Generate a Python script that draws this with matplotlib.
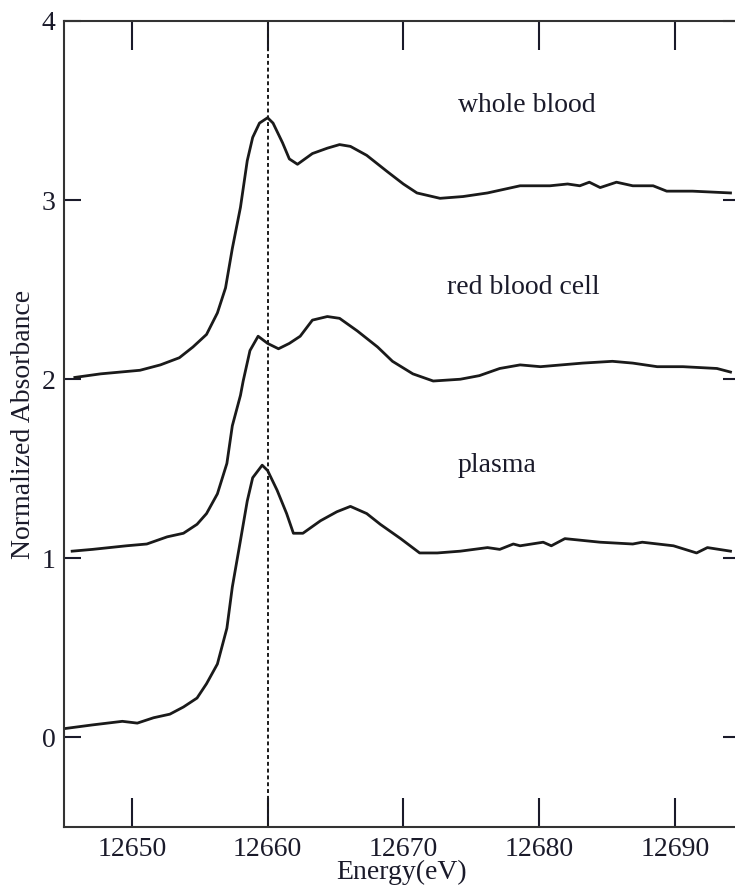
import matplotlib
matplotlib.use('Agg')
import matplotlib.pyplot as plt

plt.rcParams['font.family'] = ['Liberation Serif', 'DejaVu Serif']

# whole blood
wb_e = [12645.8, 12647.7, 12650.6, 12652.1, 12653.5, 12654.5, 12655.5, 12656.3, 12656.9,
        12657.4, 12658.0, 12658.5, 12658.9, 12659.4, 12660.0, 12660.4, 12661.1, 12661.6,
        12662.2, 12663.3, 12664.4, 12665.3, 12666.1, 12667.3, 12668.8, 12670.0, 12671.0,
        12672.7, 12674.4, 12676.2, 12678.6, 12680.8, 12682.1, 12683.0, 12683.7, 12684.5,
        12685.7, 12686.9, 12688.4, 12689.4, 12691.3, 12694.1]
wb_a = [2.01, 2.03, 2.05, 2.08, 2.12, 2.18, 2.25, 2.37, 2.51,
        2.73, 2.96, 3.22, 3.35, 3.43, 3.46, 3.43, 3.32, 3.23,
        3.20, 3.26, 3.29, 3.31, 3.30, 3.25, 3.16, 3.09, 3.04,
        3.01, 3.02, 3.04, 3.08, 3.08, 3.09, 3.08, 3.10, 3.07,
        3.10, 3.08, 3.08, 3.05, 3.05, 3.04]

# red blood cell
rbc_e = [12645.6, 12647.1, 12649.6, 12651.1, 12652.6, 12653.8, 12654.8, 12655.5, 12656.3,
         12657.0, 12657.4, 12658.0, 12658.2, 12658.7, 12659.3, 12660.0, 12660.8, 12661.6,
         12662.4, 12663.3, 12664.4, 12665.3, 12666.6, 12668.1, 12669.2, 12670.7, 12672.2,
         12674.2, 12675.6, 12677.1, 12678.6, 12680.1, 12683.2, 12685.4, 12686.9, 12688.7,
         12690.6, 12693.1, 12694.1]
rbc_a = [1.04, 1.05, 1.07, 1.08, 1.12, 1.14, 1.19, 1.25, 1.36,
         1.53, 1.74, 1.91, 1.99, 2.16, 2.24, 2.20, 2.17, 2.20,
         2.24, 2.33, 2.35, 2.34, 2.27, 2.18, 2.10, 2.03, 1.99,
         2.00, 2.02, 2.06, 2.08, 2.07, 2.09, 2.10, 2.09, 2.07,
         2.07, 2.06, 2.04]

# plasma
pl_e = [12645.1, 12647.1, 12649.3, 12650.4, 12651.6, 12652.8, 12653.8, 12654.8, 12655.5,
        12656.3, 12657.0, 12657.4, 12658.0, 12658.5, 12658.9, 12659.6, 12660.0, 12660.7,
        12661.4, 12661.9, 12662.6, 12663.9, 12665.1, 12666.1, 12667.3, 12668.3, 12669.8,
        12671.2, 12672.5, 12674.2, 12676.2, 12677.1, 12678.1, 12678.6, 12680.3, 12680.9,
        12681.9, 12684.5, 12686.9, 12687.6, 12689.9, 12691.6, 12692.4, 12694.1]
pl_a = [0.05, 0.07, 0.09, 0.08, 0.11, 0.13, 0.17, 0.22, 0.30,
        0.41, 0.61, 0.84, 1.10, 1.32, 1.45, 1.52, 1.49, 1.38,
        1.25, 1.14, 1.14, 1.21, 1.26, 1.29, 1.25, 1.19, 1.11,
        1.03, 1.03, 1.04, 1.06, 1.05, 1.08, 1.07, 1.09, 1.07,
        1.11, 1.09, 1.08, 1.09, 1.07, 1.03, 1.06, 1.04]

labels = ['whole blood', 'red blood cell', 'plasma']
label_e = [12674.0, 12673.2, 12674.0]
label_a = [3.53, 2.51, 1.52]

edge_energy = 12660
x_ticks = [12650, 12660, 12670, 12680, 12690]
y_ticks = [0, 1, 2, 3, 4]

fig = plt.figure(figsize=(7.35, 8.9), dpi=100)
ax = fig.add_axes([64 / 735, 63 / 890, 676 / 735, 806 / 890])

for e, a in [(wb_e, wb_a), (rbc_e, rbc_a), (pl_e, pl_a)]:
    ax.plot(e, a, color='#1a1a1a', linewidth=2.0, solid_joinstyle='round')

ax.axvline(edge_energy, color='#1a1a1a', linestyle=(0, (2, 1.5)), linewidth=1.4)

for txt, e, a in zip(labels, label_e, label_a):
    ax.text(e, a, txt, fontsize=20, ha='left', va='center', color='#1a1a2a')

ax.set_xlim(12645, 12694.8)
ax.set_ylim(-0.5, 4.0)
ax.set_xticks(x_ticks)
ax.set_yticks(y_ticks)
ax.tick_params(axis='x', direction='in', top=True, length=21, width=1.5,
               labelsize=20, pad=7, colors='#1a1a2a')
ax.tick_params(axis='y', direction='in', right=True, length=12, width=1.5,
               labelsize=20, pad=6, colors='#1a1a2a')
for s in ax.spines.values():
    s.set_linewidth(1.5)
    s.set_color('#333333')

ax.set_xlabel('Energy(eV)', fontsize=20, labelpad=-1, color='#1a1a2a')
ax.set_ylabel('Normalized Absorbance', fontsize=20, labelpad=4, color='#1a1a2a')

fig.savefig('out.png', dpi=100)
